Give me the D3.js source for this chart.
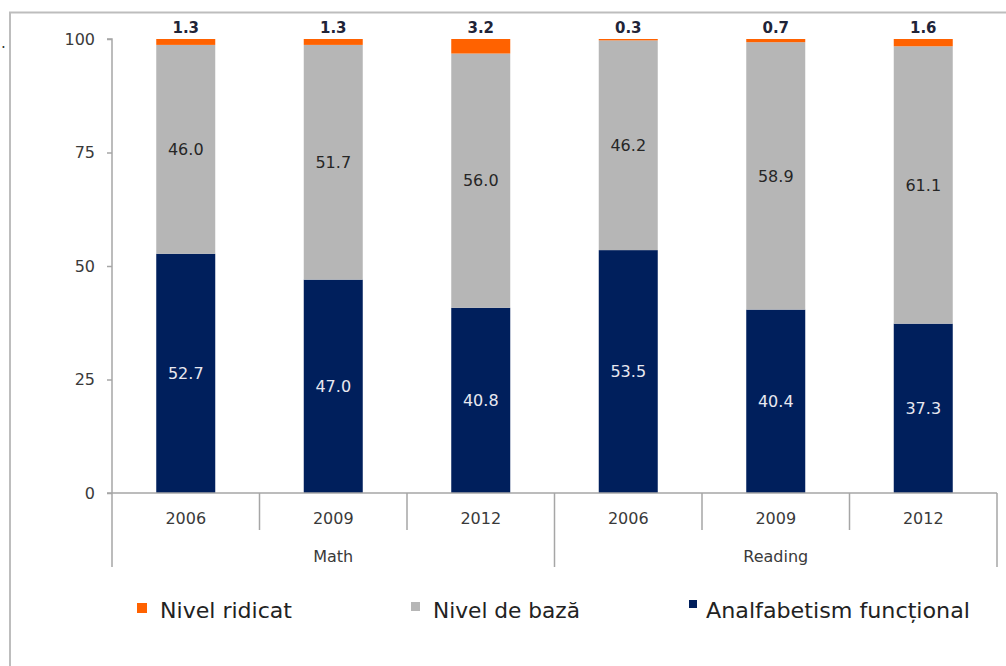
<!DOCTYPE html>
<html>
<head>
<meta charset="utf-8">
<script src="https://cdn.jsdelivr.net/npm/d3@7"></script>
<style>
  html, body { margin: 0; padding: 0; background: #fff; }
  svg { display: block; }
</style>
</head>
<body>
<svg id="chart" width="1006" height="666"></svg>
<script>
// ---- data ----
const categories = ["2006", "2009", "2012", "2006", "2009", "2012"];
const groups = ["Math", "Math", "Math", "Reading", "Reading", "Reading"];
const analfabetismFunctional = [52.7, 47.0, 40.8, 53.5, 40.4, 37.3];
const nivelDeBaza = [46.0, 51.7, 56.0, 46.2, 58.9, 61.1];
const nivelRidicat = [1.3, 1.3, 3.2, 0.3, 0.7, 1.6];
const yTicks = [0, 25, 50, 75, 100];
const seriesNames = ["Nivel ridicat", "Nivel de bază", "Analfabetism funcțional"];

// ---- layout ----
const svg = d3.select("#chart");
const plotLeft = 112, plotRight = 997, plotTop = 39, plotBottom = 493;
const colors = { af: "#001f5c", base: "#b6b6b6", high: "#ff6200" };

const rows = categories.map((c, i) => ({
  key: i, year: c, group: groups[i],
  af: analfabetismFunctional[i], base: nivelDeBaza[i], high: nivelRidicat[i]
}));

const x = d3.scaleBand().domain(rows.map(d => d.key)).range([plotLeft, plotRight])
  .paddingInner(0.6).paddingOuter(0.3);
const y = d3.scaleLinear().domain([0, 100]).range([plotBottom, plotTop]);

// frame
svg.append("path").attr("d", "M10,667 L10,12.5 L1010,12.5")
  .attr("fill", "none").attr("stroke", "#bdbdbd").attr("stroke-width", 2);
svg.append("text").attr("x", 1).attr("y", 48).text(".")
  .attr("font-family", "DejaVu Sans").attr("font-size", 15).attr("fill", "#333");

// stack
const stack = d3.stack().keys(["af", "base", "high"]);
const stacked = stack(rows);

const g = svg.append("g");
stacked.forEach(layer => {
  g.selectAll(null).data(layer).enter().append("rect")
    .attr("x", d => x(d.data.key))
    .attr("width", x.bandwidth())
    .attr("y", d => y(d[1]))
    .attr("height", d => y(d[0]) - y(d[1]))
    .attr("fill", colors[layer.key]);
});

// labels inside
const lblFont = "DejaVu Sans";
const fs = 16;
stacked.slice(0, 2).forEach(layer => {
  g.selectAll(null).data(layer).enter().append("text")
    .attr("x", d => x(d.data.key) + x.bandwidth() / 2)
    .attr("y", d => (y(d[0]) + y(d[1])) / 2)
    .attr("dy", "0.36em")
    .attr("text-anchor", "middle")
    .attr("font-family", lblFont).attr("font-size", fs)
    .attr("fill", layer.key === "af" ? "#e8e8f0" : "#262626")
    .text(d => d3.format(".1f")(d.data[layer.key]));
});
// top labels
g.selectAll(null).data(stacked[2]).enter().append("text")
  .attr("x", d => x(d.data.key) + x.bandwidth() / 2)
  .attr("y", d => y(d[1]) - 6)
  .attr("text-anchor", "middle")
  .attr("font-family", lblFont).attr("font-size", 15).attr("font-weight", "bold")
  .attr("fill", "#1f2438")
  .text(d => d3.format(".1f")(d.data.high));

// y axis
const yAxis = d3.axisLeft(y).tickValues(yTicks).tickSize(5).tickPadding(12);
const ya = svg.append("g").attr("transform", `translate(${plotLeft},0)`).call(yAxis);
ya.select(".domain").attr("stroke", "#a6a6a6").attr("stroke-width", 1.5)
  .attr("d", `M-5,${plotTop}H0V567`);
ya.selectAll(".tick line").attr("stroke", "#a6a6a6").attr("stroke-width", 1.5);
ya.selectAll(".tick text").attr("font-family", lblFont).attr("font-size", fs).attr("fill", "#3a3a3a");

// x axis (baseline + separators)
const xa = svg.append("g");
xa.append("line").attr("x1", plotLeft - 5).attr("x2", plotRight).attr("y1", plotBottom).attr("y2", plotBottom)
  .attr("stroke", "#a6a6a6").attr("stroke-width", 1.5);
const step = x.step();
rows.forEach((d, i) => {
  const bx = x(d.key) - x.paddingOuter() * step;
  const edge = bx + step;
  const outer = (i === rows.length - 1) || groups[i + 1] !== groups[i];
  xa.append("line").attr("x1", edge).attr("x2", edge)
    .attr("y1", plotBottom).attr("y2", outer ? 567 : 530)
    .attr("stroke", "#a6a6a6").attr("stroke-width", 1.5);
  xa.append("text").attr("x", x(d.key) + x.bandwidth() / 2).attr("y", 524)
    .attr("text-anchor", "middle").attr("font-family", lblFont).attr("font-size", fs)
    .attr("fill", "#3a3a3a").text(d.year);
});
const groupNames = Array.from(new Set(groups));
groupNames.forEach(gn => {
  const idx = rows.filter(r => r.group === gn).map(r => r.key);
  const x0 = x(idx[0]) - x.paddingOuter() * step;
  const x1 = x(idx[idx.length - 1]) - x.paddingOuter() * step + step;
  xa.append("text").attr("x", (x0 + x1) / 2).attr("y", 562)
    .attr("text-anchor", "middle").attr("font-family", lblFont).attr("font-size", fs)
    .attr("fill", "#3a3a3a").text(gn);
});

// legend
const legendItems = [
  { name: seriesNames[0], color: colors.high, mx: 137, my: 603, ms: 10, tx: 160, w: 132 },
  { name: seriesNames[1], color: colors.base, mx: 411, my: 602, ms: 9, tx: 433, w: 147 },
  { name: seriesNames[2], color: colors.af, mx: 689, my: 600, ms: 8, tx: 706, w: 264 }
];
const lg = svg.append("g");
legendItems.forEach(it => {
  lg.append("rect").attr("x", it.mx).attr("y", it.my).attr("width", it.ms).attr("height", it.ms)
    .attr("fill", it.color);
  lg.append("text").attr("x", it.tx).attr("y", 618)
    .attr("font-family", "Liberation Sans Narrow, DejaVu Sans Condensed, Noto Sans, sans-serif")
    .attr("font-size", 21).attr("fill", "#222")
    .attr("textLength", it.w).attr("lengthAdjust", "spacingAndGlyphs")
    .text(it.name);
});
</script>
</body>
</html>
